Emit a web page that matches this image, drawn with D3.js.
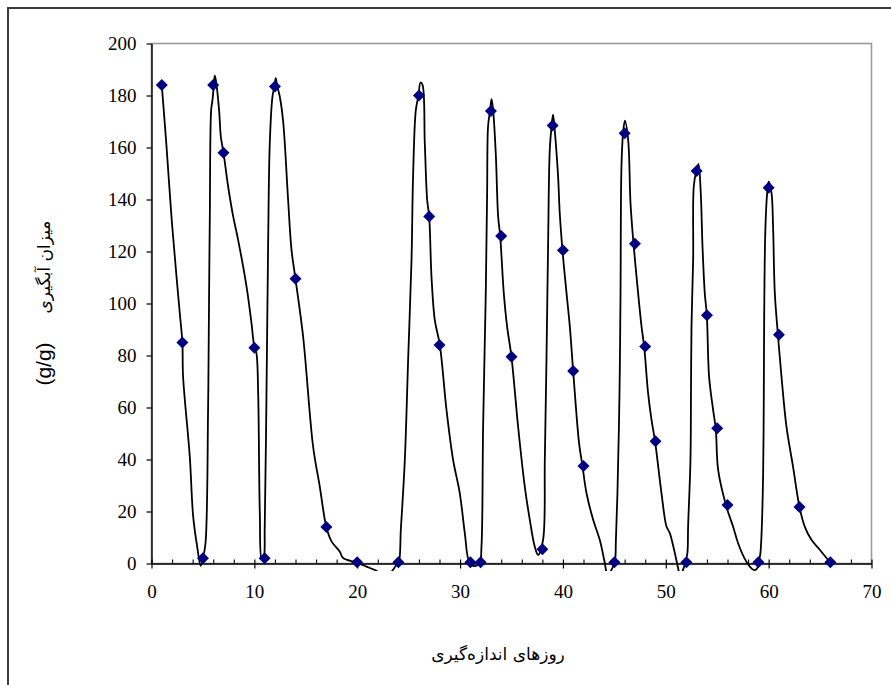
<!DOCTYPE html>
<html>
<head>
<meta charset="utf-8">
<script src="https://cdn.jsdelivr.net/npm/d3@7"></script>
<style>
  html, body { margin: 0; padding: 0; background: #fff; }
  svg { display: block; }
</style>
</head>
<body>
<svg id="chart" width="891" height="685"></svg>
<script>
// ---- Data ----
const markerX = [1,3,5,6,7,10,11,12,14,17,20,24,26,27,28,31,32,33,34,35,38,39,40,41,42,45,46,47,48,49,52,53,54,55,56,59,60,61,63,66];
const markerY = [184,85,2,184,158,83,2,183.5,109.5,14,0.5,0.5,180,133.5,84,0.5,0.5,174,126,79.5,5.5,168.5,120.5,74,37.5,0.5,165.5,123,83.5,47,0.5,151,95.5,52,22.5,0.5,144.5,88,21.7,0.5];

// hand-drawn trend curve
const curveX = [1.0,1.46,1.94,2.43,2.75,3.0,3.07,3.72,4.05,4.44,4.79,
  5.0,5.25,5.5,5.6,5.67,5.8,5.93,6.06,6.15,6.25,6.57,6.74,7.0,7.45,7.94,8.42,9.24,9.72,10.0,10.2,10.37,10.53,10.72,
  10.9,11.01,11.18,11.34,11.5,11.76,11.95,12.08,12.2,12.47,12.8,13.28,13.61,14.0,14.74,15.71,16.36,17.0,17.5,18.3,18.63,19.93,20.9,21.87,22.5,23.0,
  23.49,23.82,24.04,24.24,24.63,24.95,25.28,25.43,25.7,25.96,26.15,26.35,26.57,26.8,27.0,27.22,27.54,28.03,28.68,29.32,29.97,30.46,30.9,31.4,
  31.9,32.08,32.24,32.5,32.63,32.72,32.9,33.06,33.21,33.47,33.7,33.9,34.25,34.57,35.0,35.64,36.29,36.78,37.26,37.59,
  38.07,38.24,38.4,38.56,38.72,38.9,39.04,39.2,39.53,39.69,39.96,40.35,40.67,41.0,41.57,41.9,42.29,42.94,43.58,44.07,44.23,44.45,
  44.72,45.04,45.15,45.3,45.5,45.6,45.69,45.85,46.02,46.34,46.57,46.86,47.31,47.64,47.9,48.28,48.61,48.96,49.58,50.07,50.39,50.88,51.2,51.35,51.55,
  51.68,51.9,52.1,52.17,52.4,52.45,52.5,52.66,52.72,52.98,53.18,53.4,53.57,53.79,53.99,54.21,54.6,54.86,55.09,55.86,56.54,57.03,57.68,58.17,58.5,58.7,
  58.97,59.05,59.2,59.3,59.46,59.53,59.56,59.69,59.9,60.01,60.28,60.43,60.6,60.9,61.25,61.73,62.37,63.0,63.51,64.16,64.97,65.95];
const curveY = [184,160.4,133.5,110.4,96.3,85,71.9,41.2,18.1,6.5,-0.9,
  2,7.8,59.1,104,133.5,174.5,178.3,184,187.6,186,174.5,164.2,158,145,133.5,124.5,106.5,92.5,83.2,80.9,65.5,19.4,1.4,
  2,14.2,65.5,123.2,161.7,179.6,183.5,186.7,184,179.6,170,139.9,120.7,109.4,87.3,45,29.6,14,8.5,4.6,2.1,0.4,-1.2,-2.8,-4.5,-4.5,
  -2.4,-0.5,0.4,13,39.9,78.3,116.8,148.8,174.5,180,185,184.1,161.7,139.9,133.3,110.4,93.7,84.1,59.1,39.9,27.1,11.7,0.5,-1,
  0,6.5,52.7,104,142.5,168.1,173.8,178.6,174.5,157.8,133.5,125.9,104,91.2,79.4,52.7,29.6,16.8,6.5,3.3,
  9.1,39.9,78.3,123.2,159.1,168.3,172.6,166.8,148.8,134.8,120.3,104,91.2,73.8,46.3,37.5,27.1,16.8,9.1,0.15,-3.1,-4.5,
  -2.4,0.4,9,27,65.5,104,152.7,165.6,170.3,163,138.6,123.1,104,91.2,83.3,65.5,55.3,46.9,27.1,14.2,11.7,4,-1.8,-4,-4,
  -2.4,0.4,4,14.2,39.9,65.5,91.2,116.8,145,151.2,153.7,142.5,121.9,104,95.5,71.9,59.1,51.8,36,22.3,14.2,7.8,1.8,-1.2,-2.4,-2.5,
  -1.2,0.5,4,10.4,33.5,65.5,91.2,129.6,144.4,146.9,142.5,129.6,104,88.1,71.9,52.7,37.3,21.7,14.2,9.1,5.3,0.5];

const xMajorTicks = [0,10,20,30,40,50,60,70];
const xMinorTicks = [2,4,6,8,12,14,16,18,22,24,26,28,32,34,36,38,42,44,46,48,52,54,56,58,62,64,66,68];
const yTicks = [0,20,40,60,80,100,120,140,160,180,200];

const xTitle = "روزهای اندازه‌گیری";
const yTitleFa = "میزان آبگیری";
const yTitleUnit = "(g/g)";

// ---- Layout ----
const svg = d3.select("#chart");
const L = 151.5, R = 871.5, T = 43.5, B = 563.5;
const x = d3.scaleLinear().domain([0, 70]).range([L, R]);
const y = d3.scaleLinear().domain([0, 200]).range([B, T]);

// outer frame
svg.append("rect")
  .attr("x", 8).attr("y", 8).attr("width", 920).attr("height", 720)
  .attr("fill", "none").attr("stroke", "#3a3a3a").attr("stroke-width", 2);

// plot area border (top/right grey)
svg.append("rect")
  .attr("x", L).attr("y", T).attr("width", R - L).attr("height", B - T)
  .attr("fill", "none").attr("stroke", "#9a9a9a").attr("stroke-width", 1.6);

// clip for the curve
svg.append("clipPath").attr("id", "clip")
  .append("rect")
  .attr("x", L).attr("y", T - 5)
  .attr("width", R - L).attr("height", y(-2.9) - (T - 5));

const curvePts = curveX.map((d, i) => [d, curveY[i]]);
const line = d3.line()
  .x(d => x(d[0])).y(d => y(d[1]))
  .curve(d3.curveCatmullRom.alpha(0.5));

svg.append("path")
  .datum(curvePts)
  .attr("clip-path", "url(#clip)")
  .attr("fill", "none")
  .attr("stroke", "#000")
  .attr("stroke-width", 1.8)
  .attr("stroke-linejoin", "round")
  .attr("d", line);

// ---- Axes ----
const numFont = "'Liberation Serif', 'Times New Roman', serif";

const yAxis = svg.append("g")
  .attr("transform", `translate(${L},0)`)
  .call(d3.axisLeft(y).tickValues(yTicks).tickSize(5).tickSizeOuter(0).tickPadding(10).tickFormat(d3.format("d")));
yAxis.select(".domain").attr("stroke", "#000").attr("stroke-width", 1.4);
yAxis.selectAll(".tick line").attr("stroke", "#000").attr("stroke-width", 1.2);
yAxis.selectAll(".tick text")
  .attr("font-family", numFont).attr("font-size", 19).attr("fill", "#000");

const xMinor = svg.append("g")
  .attr("transform", `translate(0,${B})`)
  .call(d3.axisBottom(x).tickValues(xMinorTicks).tickSize(-4).tickSizeOuter(0).tickFormat(""));
xMinor.select(".domain").remove();
xMinor.selectAll(".tick line").attr("stroke", "#000").attr("stroke-width", 1.1);

const xAxis = svg.append("g")
  .attr("transform", `translate(0,${B})`)
  .call(d3.axisBottom(x).tickValues(xMajorTicks).tickSize(5).tickSizeOuter(0).tickPadding(16).tickFormat(d3.format("d")));
xAxis.select(".domain").attr("stroke", "#000").attr("stroke-width", 1.4);
xAxis.selectAll(".tick line").attr("y1", -4).attr("stroke", "#000").attr("stroke-width", 1.2);
xAxis.selectAll(".tick text")
  .attr("font-family", numFont).attr("font-size", 19).attr("fill", "#000");

// ---- Markers ----
const diamond = "M0,-6L6,0L0,6L-6,0Z";
svg.append("g").selectAll("path")
  .data(markerX.map((d, i) => [d, markerY[i]]))
  .join("path")
  .attr("transform", d => `translate(${x(d[0])},${y(d[1])})`)
  .attr("d", diamond)
  .attr("fill", "#000080");

// ---- Titles ----
svg.append("text")
  .attr("x", 498).attr("y", 660)
  .attr("text-anchor", "middle")
  .attr("direction", "rtl")
  .attr("font-family", "'DejaVu Sans', sans-serif")
  .attr("font-size", 17)
  .attr("fill", "#000")
  .text(xTitle);

svg.append("text")
  .attr("transform", "translate(50,267) rotate(-90)")
  .attr("text-anchor", "middle")
  .attr("direction", "rtl")
  .attr("font-family", "'DejaVu Sans', sans-serif")
  .attr("font-size", 17)
  .attr("fill", "#000")
  .text(yTitleFa);

svg.append("text")
  .attr("transform", "translate(51,364) rotate(-90)")
  .attr("text-anchor", "middle")
  .attr("font-family", "'Liberation Sans', Arial, sans-serif")
  .attr("font-size", 21)
  .attr("fill", "#000")
  .text(yTitleUnit);
</script>
</body>
</html>
